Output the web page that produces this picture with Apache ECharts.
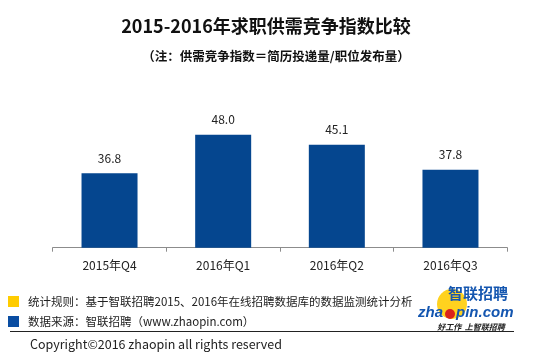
<!DOCTYPE html>
<html><head><meta charset="utf-8">
<script src="https://cdn.jsdelivr.net/npm/echarts@6/dist/echarts.min.js"></script>
<style>html,body{margin:0;padding:0;background:#fff}#c{width:554px;height:357px}</style>
</head><body><div id="c"></div>
<script>
const categories = ['2015年Q4', '2016年Q1', '2016年Q2', '2016年Q3'];
const values = [36.8, 48.0, 45.1, 37.8];
const titleText = '2015-2016年求职供需竞争指数比较';
const subtitleText = '（注：供需竞争指数＝简历投递量/职位发布量）';
const note1 = '统计规则：基于智联招聘2015、2016年在线招聘数据库的数据监测统计分析';
const note2 = '数据来源：智联招聘（www.zhaopin.com）';
const copyright = 'Copyright©2016 zhaopin all rights reserved';

const FONT = '"Noto Sans CJK SC", "Noto Sans", sans-serif';
const LOGO_BLUE = '#1456b0';
const chart = echarts.init(document.getElementById('c'));
chart.setOption({
  animation: false,
  textStyle: { fontFamily: FONT },
  title: [
    { text: titleText, left: 261, top: 12, textAlign: 'center',
      textStyle: { fontSize: 18, fontWeight: 'bold', color: '#111', fontFamily: FONT } },
    { text: subtitleText, left: 271, top: 45, textAlign: 'center',
      textStyle: { fontSize: 12.5, fontWeight: 'bold', color: '#111', fontFamily: FONT } }
  ],
  grid: { left: 52.7, right: 46.7, top: 128, bottom: 109.3 },
  xAxis: {
    type: 'category', data: categories,
    axisLine: { lineStyle: { color: '#8c8c8c', width: 1 } },
    axisTick: { show: true, length: 4, lineStyle: { color: '#8c8c8c' } },
    axisLabel: { color: '#222', fontSize: 12, margin: 12, fontFamily: FONT }
  },
  yAxis: { type: 'value', min: 15, max: 50, show: false, splitLine: { show: false } },
  series: [{
    type: 'bar', data: values, barWidth: 56,
    itemStyle: { color: '#05468f' },
    label: { show: true, position: 'top', distance: 9, color: '#222', fontSize: 12,
      fontFamily: FONT, formatter: p => p.value.toFixed(1) }
  }],
  graphic: [
    { type: 'rect', shape: { x: 8, y: 296, width: 11, height: 11 }, style: { fill: '#ffcc00' } },
    { type: 'rect', shape: { x: 8, y: 316, width: 11, height: 11 }, style: { fill: '#0a4da2' } },
    { type: 'text', x: 28, y: 302, style: { text: note1, fill: '#222', font: '11.5px ' + FONT, verticalAlign: 'middle' } },
    { type: 'text', x: 28, y: 322, style: { text: note2, fill: '#222', font: '11.5px ' + FONT, verticalAlign: 'middle' } },
    { type: 'line', shape: { x1: 10, y1: 331.5, x2: 514, y2: 331.5 }, style: { stroke: '#222', lineWidth: 1 } },
    { type: 'text', x: 30, y: 344, style: { text: copyright, fill: '#222', font: '12.5px ' + FONT, verticalAlign: 'middle' } },
    { type: 'circle', shape: { cx: 452, cy: 304, r: 15 }, style: { fill: '#ffd21f' } },
    { type: 'text', x: 478, y: 293, style: { text: '智联招聘', fill: LOGO_BLUE, font: 'bold 15px ' + FONT, align: 'center', verticalAlign: 'middle' } },
    { type: 'text', x: 443, y: 313, style: { text: 'zha', fill: LOGO_BLUE, font: 'italic bold 15px "Liberation Sans", sans-serif', align: 'right', verticalAlign: 'middle' } },
    { type: 'circle', shape: { cx: 450, cy: 314, r: 5 }, style: { fill: '#d9231d' } },
    { type: 'text', x: 456, y: 313, style: { text: 'pin.com', fill: LOGO_BLUE, font: 'italic bold 15px "Liberation Sans", sans-serif', align: 'left', verticalAlign: 'middle' } },
    { type: 'text', x: 471, y: 327, style: { text: '好工作  上智联招聘', fill: '#222', font: 'italic bold 8px ' + FONT, align: 'center', verticalAlign: 'middle' } }
  ]
});
</script></body></html>
